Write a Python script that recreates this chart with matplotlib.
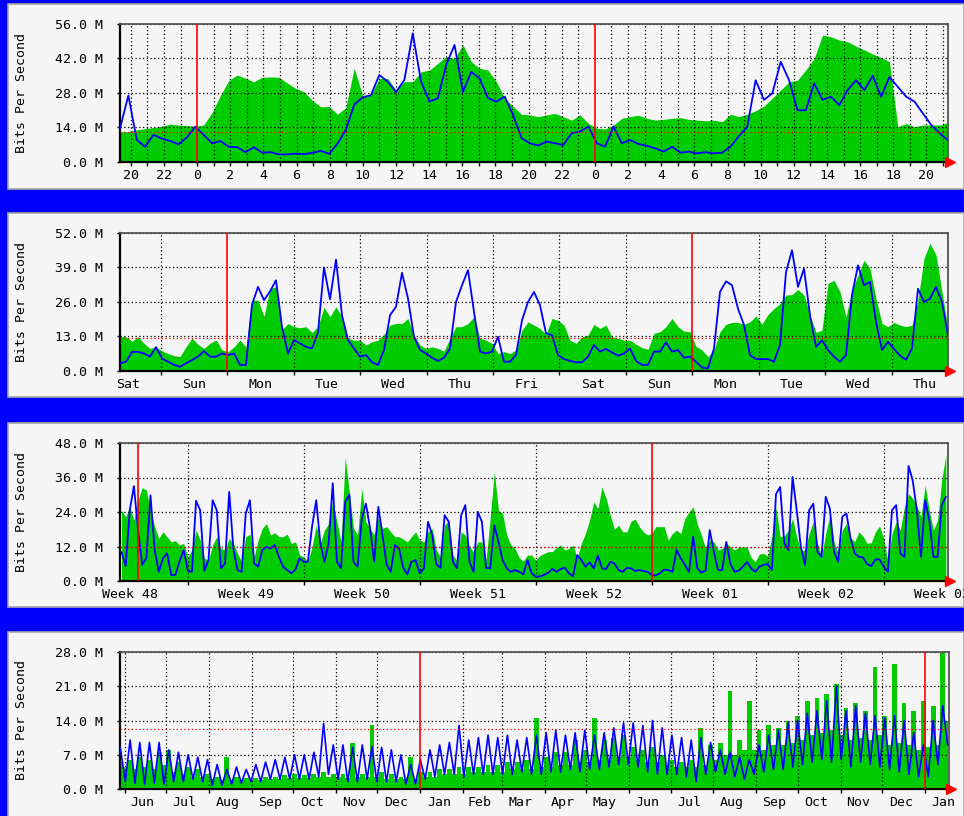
import numpy as np
import matplotlib
matplotlib.use('Agg')
import matplotlib.pyplot as plt
from matplotlib.patches import Rectangle
from matplotlib.transforms import ScaledTranslation

W, H = 964, 816
GREEN = '#00cc00'
BLUE = '#0000ff'
FONT = 'DejaVu Sans Mono'
FS = 9.5

# ---------------- data, Mbit/s ----------------
# daily graph: half-hour samples, hour 0 = first midnight
day_in = [12.3, 12.3, 13, 13.5, 14, 14.5, 15.4, 15, 14.8, 14.5, 15, 20, 27, 33, 35.3, 34, 32.5,
          34.4, 34.5, 34.4, 32, 29.9, 28.5, 25, 22.4, 22.5,
          19.4, 22, 38, 27.1, 27.1, 33.9, 33.9, 29.2, 32.6, 32.6, 36.6, 37.3, 40, 42.7, 42, 47.5,
          40.7, 38, 37.3, 32.6, 25.9, 22.5, 19.4, 19.1, 18.4, 19.1, 19.7, 18.4, 17, 19.1, 15.7,
          13.7, 13.4, 15,
          17.7, 18.4, 19, 17.7, 17, 17.3, 17.7, 18, 17.3, 17, 16.7, 17, 16.3, 19.4, 18.4, 19.4,
          20.8, 22.7, 25.9, 29.2, 32.5, 33.2, 37.3, 42, 51.5, 50.8, 49.5, 48.8, 47, 45.5, 43.8,
          42.4, 40.7, 14.3, 15.6, 14.3, 15, 15, 15, 16]
day_out = [13.7, 27, 9, 6.2, 11, 9.5, 8.5, 7.2, 10, 14.3, 11, 7.6, 8.5, 6.2, 6, 4, 6, 3.8, 4,
           3.1, 3.1, 3.4, 3.2, 3.7, 4.5, 3.3,
           7.4, 13, 23.3, 26.2, 27.1, 35.3, 32.6, 28.4, 33.3, 52.2, 32.6, 24.5, 25.9, 39.4, 47.5,
           28.4, 36.6, 33.9, 25.9, 24.5, 26.5, 19.1, 9.7, 7.6, 6.7, 8.3, 7.6, 6.9, 11.7, 12.4,
           14.4, 7.6, 6.2, 14.4,
           7.6, 8.9, 7.3, 6.6, 5.5, 4.2, 6.2, 3.8, 4.2, 3.5, 4, 3.5, 3.8, 6.2, 10.5, 14.3, 33.2,
           25.2, 27.9, 40.7, 33.2, 21, 21, 31.9, 25.2, 26.5, 23.1, 29.2, 33.2, 29.2, 35, 26.5,
           34.5, 30.5, 26.5, 24.5, 19.7, 15, 11.6, 8.9]
day_ticks = list(range(-4, 46))
day_label_pos = list(range(-4, 45, 2))
day_labels = [str(h % 24) for h in day_label_pos]

# weekly graph: day 0 = Sunday 00:00
week_in = [12.9, 12.9, 11.2, 12.9, 10.4, 8.5, 9.1, 7.5, 6.6, 5.8, 5.4, 9.1, 12.4, 10, 8.5, 10.4,
           11.7, 8, 7.2, 9.1, 11.7, 9, 26.7, 26.7, 20.5, 31.1, 31.7, 15.5, 17.9, 16.7, 16.3,
           16.7, 14.5, 16.7, 24, 20.5,
           24.2, 20.4, 12.3, 11.6, 11.6, 9.8, 11, 11.6, 13.8, 17.3, 17.9, 17.9, 19.8, 13.5, 9.8,
           8.5, 9.1, 8.5, 7.5, 12.3, 16.7, 16.7, 17.9, 20.4, 12.3, 11.6, 10.4, 6.6, 7.3, 6.6,
           7.9, 15.4, 18.5, 17.3, 16, 13.8, 19.8, 19.1, 17.3, 11.6, 10.4, 12.9, 13.5, 17.6, 16,
           17.3, 12.9, 12.3, 11.6,
           11.6, 10.1, 8.8, 8.2, 14.2, 14.8, 16.7, 19.8, 16.7, 15, 14.8, 9.3, 7.9, 5.4, 7.9,
           14.8, 17.6, 18.3, 18.3, 17.6, 18.5, 20.8, 17.6, 21.3, 23.5, 25.4, 28.6, 28.8, 30.7,
           28.6, 21, 14.5, 15.4, 33, 34.2, 29.8, 20.4, 30.4, 36, 41.7, 38.6, 27.3, 17.9, 16.7,
           18.3, 17.3, 16.7, 17.3, 26.7, 42.4, 48.1, 43.7, 29.8, 16]
week_out = [2.9, 3.5, 7.2, 7.2, 6.6, 5.4, 9, 4.7, 3.5, 2.3, 1.6, 2.9, 4.1, 5.4, 7.5, 5.4, 5.4,
            6.6, 6, 6.6, 2.3, 2.3, 25, 31.7, 26.7, 30, 34.2, 16.7, 6.6, 11.7, 10.4, 9.1, 8.5,
            14.5, 39, 27,
            42, 21, 11.6, 8.5, 5.4, 6, 3.3, 2.3, 7.9, 21, 24.2, 37, 27.3, 12.9, 7.9, 6.6, 5,
            3.8, 5, 8.5, 26, 32.3, 38, 22.3, 7.3, 6.6, 7.3, 12.9, 3.5, 3.5, 6, 19.1, 26, 29.8,
            24.8, 14.2, 13.5, 6, 4.5, 3.8, 3.3, 3.3, 5.4, 9.8, 7.3, 8.3, 7, 5.8, 6.6,
            8.5, 3.8, 2.3, 2.3, 7.3, 7.3, 10.8, 7.3, 7.9, 5, 5.4, 3.5, 1.3, 1, 8.5, 29.8, 33.8,
            32.3, 23.5, 17.3, 6, 4.5, 4.5, 4.5, 3.5, 9.8, 37.3, 45.5, 31.7, 38.6, 21, 9.1, 11.6,
            7.9, 5.4, 3.5, 6, 28.6, 39.8, 32.3, 33.6, 18.5, 7.9, 11, 8.3, 5.8, 4.2, 8.5, 31, 26,
            27.3, 31.7, 26, 13.5]
week_ticks = list(range(0, 12))
week_label_pos = [d - 0.5 for d in range(0, 13)]
week_labels = ['Sat', 'Sun', 'Mon', 'Tue', 'Wed', 'Thu', 'Fri',
               'Sat', 'Sun', 'Mon', 'Tue', 'Wed', 'Thu']

# monthly graph: 6-hour samples, day 0 = Dec 1
month_in = [24.6, 22.3, 25.8, 21.2, 28.1, 32.5, 31.6, 24.6, 18.9, 14.8,
            17.1, 15.4, 13.6, 14, 12.5, 13.1, 8.4, 10.8, 17.7, 14.2,
            7.9, 7.3, 12.5, 15.4, 11.3, 10.8, 14.8, 13.1, 9.6, 6.7,
            15.4, 16.3, 8.4, 14.2, 18.3, 20, 16, 16.8, 15.4, 15.4,
            16.3, 13.1, 13.6, 9, 8.4, 6.7, 11.9, 19.4, 13.1, 17.7,
            20, 28.1, 20.6, 13.6, 43, 31, 18.3, 16, 32.2, 20.6,
            18.3, 16, 22.3, 18.3, 18.9, 17.1, 15.4, 15.4, 14.6, 13.6,
            15.4, 17.1, 14.2, 13.6, 17.1, 18.3, 10.8, 8.4, 19.4, 21.2,
            9, 6.9, 17.1, 16, 11.9, 10.2, 13.6, 13.6, 7.3, 21.7,
            38, 24.6, 23.5, 16, 12.5, 11.3, 8.1, 6.9, 9, 9,
            7.3, 8.8, 9.6, 10.2, 10.2, 11.6, 12.5, 10.8, 11.3, 12.5,
            7.9, 13.1, 16.5, 21.2, 27.5, 25.2, 32.7, 28.7, 22.9, 18,
            19.4, 17.1, 17.1, 20.8, 21.5, 18.9, 17.1, 16, 16.5, 18.9,
            18.9, 18.9, 14.2, 16.5, 17.7, 16.5, 21.7, 24, 25.8, 19.7,
            16, 11.3, 14.2, 13.6, 10.8, 11.3, 13.1, 11.9, 10.8, 11.7,
            11.9, 11.7, 8.2, 6.7, 9.4, 9.6, 8.7, 15.4, 25.6, 15.4,
            15.6, 17.7, 21.7, 15.4, 10.5, 10.8, 16.5, 20.6, 13.1, 8.7,
            16.5, 22.9, 13.6, 9.6, 17.7, 20, 15.2, 13.6, 17.1, 15.6,
            13.1, 13.3, 17.1, 19.1, 14.8, 6.7, 16.5, 20.6, 17.7, 25.8,
            30.4, 28.7, 25.8, 22.3, 33.3, 24.6, 17.7, 21.2, 35, 44]
month_out = [10, 5.2, 24.6, 33, 17.7, 5.6, 7.9, 29.8, 10.8, 3.2,
             7.9, 9.6, 2.1, 2.1, 6.7, 10.8, 3.6, 3.2, 27.9, 24.6,
             3.6, 7.3, 28.1, 24.6, 4.4, 6.1, 31, 11.3, 3.8, 3.2,
             23.5, 28.1, 6.1, 5, 10.8, 11.9, 11.3, 12.5, 8.4, 5,
             3.8, 2.7, 4, 7.9, 6.7, 6.7, 18.9, 28.1, 13.1, 6.7,
             13.1, 34, 6.7, 4.4, 27.5, 30.1, 6.7, 5, 21.7, 26.9,
             18.3, 6.7, 25.8, 16, 5.6, 3.2, 12.5, 11.3, 4.6, 2.3,
             6.7, 7.3, 2.7, 4.4, 20.6, 16, 5.8, 4.6, 22.9, 20.6,
             6.7, 4.4, 22.9, 26.4, 6.7, 3.2, 24.1, 20.6, 4.6, 4.4,
             19.4, 13.6, 7.3, 4.4, 3.2, 3.8, 3.2, 2.3, 7.3, 2.7,
             1.5, 1.6, 2.1, 2.9, 4.2, 3.2, 4.2, 4.6, 2.7, 1.6,
             9, 7.3, 5, 6.5, 4.4, 8.8, 4.4, 4.2, 6.7, 6.1,
             3.8, 3.2, 4.6, 4.4, 3.5, 3.8, 3.5, 3.2, 2.1, 1.9,
             2.7, 4, 3.8, 3.2, 10.8, 7.9, 5.6, 3.2, 15.4, 4.4,
             2.9, 3.6, 17.7, 10.2, 3.8, 3.8, 13.6, 5.9, 3.2, 3.6,
             5, 6.6, 4.4, 3.2, 5, 5.6, 5.9, 3.8, 30.2, 32.7,
             13.1, 10.8, 36.2, 24.6, 11.9, 5.6, 24.6, 26.9, 10.2, 8.4,
             29.3, 25.2, 10.2, 6.7, 22.3, 23.5, 14.8, 9.6, 8.4, 8.2,
             5.9, 5.2, 7.5, 7.5, 5, 3.2, 24.6, 26.4, 9.6, 8.4,
             40, 35, 24.6, 8.4, 28.1, 21.2, 8.4, 8.4, 26.4, 29.3]
month_ticks = [3, 10, 17, 24, 31, 38, 45]
month_label_pos = [-0.5, 6.5, 13.5, 20.5, 27.5, 34.5, 41.5, 48.5]
month_labels = ['Week 48', 'Week 49', 'Week 50', 'Week 51', 'Week 52',
                'Week 01', 'Week 02', 'Week 03']

# yearly graph: two samples per week (weekdays, weekend), day 0 = Jan 1
year_in = [5.5, 4.5, 6, 4, 6.5, 4.5, 6, 4, 7.5, 5,
           8, 3.5, 5.5, 3, 4.5, 2.5, 4, 2.5,
           3, 2, 2.5, 1.8, 6.5, 1.8, 2.5, 1.8, 2.2, 1.8,
           2.2, 1.8, 2.5, 2, 2.5, 2, 2.8, 2.2,
           3, 2.2, 2.8, 2.3, 3, 2.5, 3.5, 2.5, 3, 2.5,
           3, 2.2, 9.5, 2.5, 3, 2.5, 13, 2.5,
           3.5, 2, 3, 2, 2.5, 2, 6.5, 2,
           3.5, 2.5, 3.5, 2.5, 4, 3, 4, 3,
           4.5, 3, 4.5, 3.5, 4.5, 3.5, 5, 3.5,
           5, 3.5, 5.5, 4, 5.5, 4, 6, 4, 14.5, 4.5,
           6.5, 4.5, 7.5, 5, 7.5, 5, 10, 5.5,
           8, 5.5, 14.5, 6, 10, 6, 10.5, 6.5, 11, 6.5,
           8.5, 6, 8, 5.5, 8.5, 5.5, 7, 5,
           6, 4.5, 5.5, 4.5, 6, 4.5, 12.5, 5,
           9, 6, 9.5, 7, 20, 7, 10, 8, 18, 8,
           12, 8, 13, 9, 12.5, 9, 14, 9.5,
           15, 10, 18, 11, 18.5, 11.5, 19.5, 12, 21.5, 11,
           16.5, 10, 17.5, 10.5, 16, 10, 24.9, 11,
           15, 9, 25.6, 9.5, 17.5, 9, 16, 8, 18, 8.5,
           17, 9, 27.7, 14]
year_out = [8.3, 1.5, 10, 1.2, 9.5, 1.0, 9.5, 1.2, 9.5, 1.0,
            8, 1.5, 7.5, 1.5, 7, 2, 6.5, 1.5,
            6, 0.8, 5, 0.8, 4, 1, 4.5, 1.2, 4, 1.5,
            5, 1.5, 5.5, 2, 6, 2, 6.5, 2,
            7, 2, 7, 2, 7.5, 2.5, 13.4, 3, 9, 2,
            9, 1.5, 8.5, 1.5, 9, 2, 8.7, 1.5,
            8.5, 1.5, 8, 1.5, 7, 1, 5, 1,
            6, 2, 8, 2.5, 9, 3, 9.5, 3,
            13, 2.5, 10, 3, 10.5, 3, 11, 3,
            10.5, 3, 11, 3, 10, 3.5, 10.5, 3, 11, 3,
            11.5, 3.5, 12, 3.5, 11, 4, 11.5, 3.5,
            12, 4, 11, 4, 11.5, 4.5, 12.5, 5, 13.5, 5,
            13.5, 4.5, 13, 3.5, 14, 3, 12.5, 3,
            11, 3, 10.5, 2.5, 10, 1.5, 10.5, 3,
            9.5, 3.5, 8, 3, 7.5, 2.5, 6.5, 2, 6, 3,
            9, 3.5, 11, 4, 12, 4, 13.5, 4.5,
            14, 5, 15.5, 5.5, 16, 6, 18, 5.5, 21, 6,
            16, 4.5, 17, 5.5, 15.5, 5, 15, 4.5,
            14.5, 4, 15, 3.5, 14, 3, 11.5, 2.5, 9, 2.5,
            14, 5, 17, 9]
year_ticks = [-214, -184, -153, -122, -92, -61, -31, 0, 31, 59, 90, 120, 151, 181,
              212, 243, 273, 304, 334, 365]
year_month_ends = year_ticks[1:] + [396]
year_labels = ['Jun', 'Jul', 'Aug', 'Sep', 'Oct', 'Nov', 'Dec', 'Jan', 'Feb', 'Mar', 'Apr',
               'May', 'Jun', 'Jul', 'Aug', 'Sep', 'Oct', 'Nov', 'Dec', 'Jan']
year_label_pos = [(a + b) / 2 - 2 for a, b in zip(year_ticks, year_month_ends)]

fig = plt.figure(figsize=(W / 100, H / 100), dpi=100, facecolor=BLUE)


def panel_box(y0, y1):
    fig.patches.append(Rectangle((8 / W, 1 - y1 / H), (W - 8) / W, (y1 - y0) / H,
                                 transform=fig.transFigure, facecolor='#f5f5f5',
                                 edgecolor='#a8a8a8', lw=1.2, zorder=-5))


def make_axes(x0, y0, x1, y1):
    return fig.add_axes([x0 / W, 1 - y1 / H, (x1 - x0) / W, (y1 - y0) / H])


def setup(ax, xlim, ytop, ticks, label_pos, labels, reds, maxline):
    ax.set_facecolor('#f5f5f5')
    ax.set_xlim(xlim)
    ax.set_ylim(0, ytop)
    yt = [ytop * i / 4 for i in range(5)]
    ax.set_yticks(yt)
    ax.set_yticklabels([f'{v:.1f} M' for v in yt], family=FONT, fontsize=FS)
    ax.xaxis.remove_overlapping_locs = False
    ax.set_xticks(ticks)
    ax.set_xticklabels([])
    ax.set_xticks(label_pos, minor=True)
    ax.set_xticklabels(labels, minor=True, family=FONT, fontsize=FS)
    ax.tick_params(axis='x', which='major', direction='out', length=3, width=1)
    ax.tick_params(axis='x', which='minor', length=0, pad=5)
    ax.tick_params(axis='y', direction='out', length=2, width=1, pad=10.5)
    for v in yt[1:]:
        ax.axhline(v, color='black', ls=(0, (1, 2)), lw=0.9, zorder=2)
    for t in ticks:
        if t not in reds:
            ax.axvline(t, color='black', ls=(0, (1, 2)), lw=0.9, zorder=2)
    for r in reds:
        ax.axvline(r, color='#ff0000', lw=1.2, zorder=4)
    ax.axhline(maxline, color='#ff0000', ls=(0, (1, 2)), lw=0.9, zorder=4)
    for s in ['left', 'bottom']:
        ax.spines[s].set_color('black')
        ax.spines[s].set_linewidth(1.6)
    for s in ['top', 'right']:
        ax.spines[s].set_color('#555555')
        ax.spines[s].set_linewidth(1.3)
    ax.set_ylabel('Bits Per Second', family=FONT, fontsize=FS)
    ax.yaxis.set_label_coords(-0.111, 0.5)
    arrow = ax.transAxes + ScaledTranslation(2 / 100, 0, fig.dpi_scale_trans)
    ax.plot([1], [0], marker='>', color='#ff0000', ms=6.5, transform=arrow,
            clip_on=False, zorder=6)


# panel 1: daily
panel_box(4, 189)
ax = make_axes(120, 24, 948, 162)
x = np.linspace(-4.65, 45.3, len(day_in))
ax.fill_between(x, 0, day_in, color=GREEN, lw=0, zorder=1)
ax.plot(x, day_out, color=BLUE, lw=1.3, zorder=3)
setup(ax, (-4.65, 45.3), 56, day_ticks, day_label_pos, day_labels, [0, 24], 12.3)

# panel 2: weekly
panel_box(213, 397)
ax = make_axes(120, 233, 948, 371)
x = np.linspace(-0.617, 11.85, len(week_in))
ax.fill_between(x, 0, week_in, color=GREEN, lw=0, zorder=1)
ax.plot(x, week_out, color=BLUE, lw=1.3, zorder=3)
setup(ax, (-0.617, 11.85), 52, week_ticks, week_label_pos, week_labels, [1, 8], 12.5)

# panel 3: monthly
panel_box(423, 607)
ax = make_axes(120, 443, 948, 581)
x = -1 + 0.25 * np.arange(len(month_in))
ax.fill_between(x, 0, month_in, color=GREEN, lw=0, zorder=1)
ax.plot(x, month_out, color=BLUE, lw=1.3, zorder=3)
setup(ax, (-1.09, 48.88), 48, month_ticks, month_label_pos, month_labels, [0, 31], 11.9)

# panel 4: yearly
panel_box(632, 820)
ax = make_axes(120, 652, 949, 789)
x = -217 + 3.5 * np.arange(len(year_in))
ax.fill_between(x, 0, year_in, step='mid', color=GREEN, lw=0, zorder=1)
ax.plot(x, year_out, color=BLUE, lw=1.2, zorder=3)
setup(ax, (-217.3, 382.5), 28, year_ticks, year_label_pos, year_labels, [0, 365], 12.2)

fig.savefig('out.png', dpi=100, facecolor=BLUE)
